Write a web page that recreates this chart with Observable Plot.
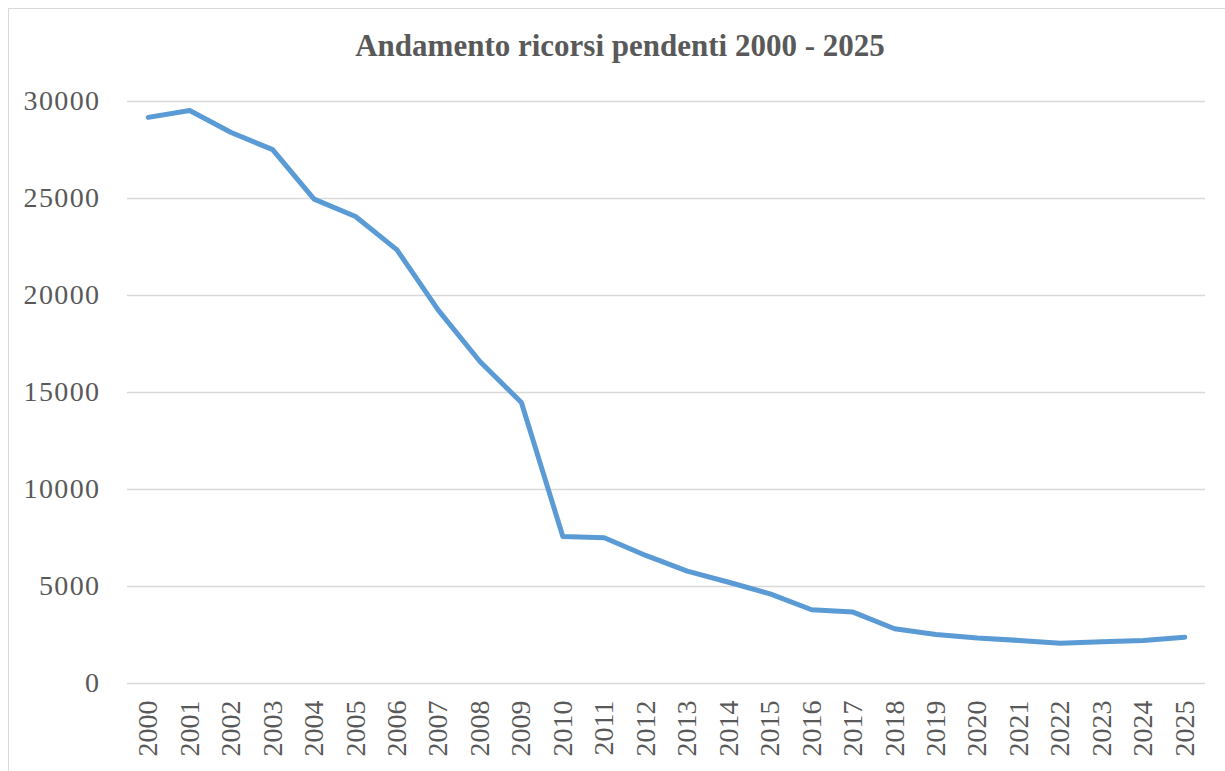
<!DOCTYPE html>
<html>
<head>
<meta charset="utf-8">
<script src="https://cdn.jsdelivr.net/npm/d3@7"></script>
<script src="https://cdn.jsdelivr.net/npm/@observablehq/plot@0.6"></script>
<style>
  html, body { margin: 0; padding: 0; background: #fff; width: 1225px; height: 771px; overflow: hidden; }
  #frame { position: absolute; left: 8px; top: 8px; width: 1240px; height: 800px; border: 1.5px solid #d9d9d9; box-sizing: border-box; }
  #title { position: absolute; left: 0; top: 0; width: 1240px; height: 80px; text-align: center;
           font-family: "Liberation Serif", "DejaVu Serif", serif; font-weight: bold; font-size: 31px; color: #595959;
           line-height: 92px; }
  #chart { position: absolute; left: 0; top: 80px; }
  #chart svg g[aria-label="y-axis tick label"] text { letter-spacing: 1.4px; }
</style>
</head>
<body>
<div id="frame"></div>
<div id="title">Andamento ricorsi pendenti 2000 - 2025</div>
<div id="chart"></div>
<script>
const years = ["2000","2001","2002","2003","2004","2005","2006","2007","2008","2009","2010","2011","2012",
               "2013","2014","2015","2016","2017","2018","2019","2020","2021","2022","2023","2024","2025"];
const pending = [29180, 29540, 28400, 27520, 24970, 24070, 22350, 19230, 16600, 14480, 7580, 7510, 6600,
                 5790, 5220, 4620, 3800, 3680, 2820, 2530, 2350, 2220, 2080, 2150, 2220, 2390];
const yTicks = [0, 5000, 10000, 15000, 20000, 25000, 30000];

const data = years.map((y, i) => ({year: y, value: pending[i]}));

const chart = Plot.plot({
  width: 1225,
  height: 691,
  marginTop: 21,
  marginBottom: 88,
  marginLeft: 127,
  marginRight: 20,
  style: {fontFamily: "'Liberation Serif', 'DejaVu Serif', serif", fontSize: "28px", color: "#595959", background: "transparent"},
  x: {type: "point", domain: years, padding: 0.5, round: false, label: null},
  y: {domain: [0, 30000], label: null},
  marks: [
    Plot.gridY(yTicks, {stroke: "#d9d9d9", strokeOpacity: 1, strokeWidth: 1.5}),
    Plot.axisY({ticks: yTicks, tickSize: 0, tickPadding: 27, tickFormat: d => String(d), label: null, fill: "#595959"}),
    Plot.axisX({tickSize: 0, tickPadding: 17, tickRotate: -90, label: null, fill: "#595959"}),
    Plot.line(data, {x: "year", y: "value", stroke: "#5b9bd5", strokeWidth: 5, strokeLinecap: "round", strokeLinejoin: "round"})
  ]
});
document.getElementById("chart").appendChild(chart);
</script>
</body>
</html>
